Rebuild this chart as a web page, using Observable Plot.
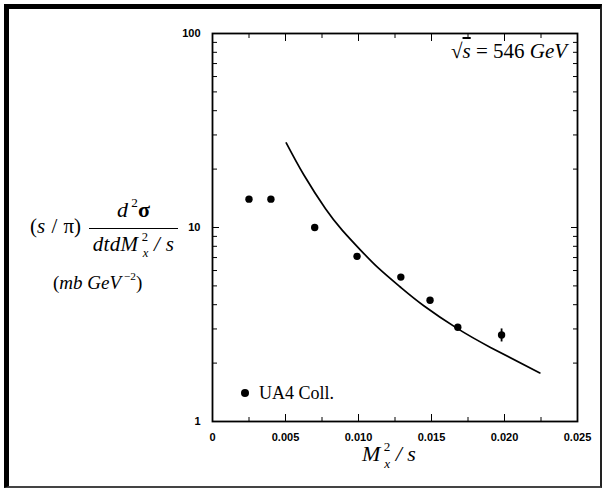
<!DOCTYPE html>
<html><head><meta charset="utf-8">
<script src="https://cdn.jsdelivr.net/npm/d3@7"></script>
<script src="https://cdn.jsdelivr.net/npm/@observablehq/plot@0.6"></script>
<style>
body{margin:0;background:#fff}
#wrap{position:relative;width:603px;height:488px;overflow:hidden;font-family:"Liberation Serif","Times New Roman",serif;color:#000}
#wrap svg{position:absolute;left:0;top:0}
.abs{position:absolute;white-space:nowrap;line-height:1}
.it{font-style:italic}
.sup{position:relative;top:-0.78em;font-size:60%}
.sub{position:relative;top:0.5em;font-size:60%}
#border{position:absolute;left:4px;top:4px;width:591px;height:477px;border-left:5px solid #000;border-top:5px solid #000;border-right:2px solid #222;border-bottom:2px solid #444}
</style></head><body>
<div id="wrap"><div id="border"></div></div>
<script>
// UA4 data points (M_x^2/s, cross section)
const dataX = [0.0025, 0.0040, 0.0070, 0.0099, 0.0129, 0.0149, 0.0168, 0.0198];
const dataY = [14.0, 14.0, 10.0, 7.1, 5.55, 4.22, 3.06, 2.79];
// error bar (only visible on the last point)
const errX = [0.0198];
const errLo = [2.57];
const errHi = [3.0];
// theory curve
const curveX = [0.00505, 0.00625, 0.00774, 0.00888, 0.01014, 0.01139, 0.01288, 0.01447, 0.01676, 0.01904, 0.02242];
const curveY = [27.3, 18.7, 12.5, 9.7, 7.65, 6.15, 4.92, 3.95, 3.02, 2.41, 1.78];
// ticks
const xTickValues = [0, 0.005, 0.010, 0.015, 0.020, 0.025];
const xTickLabels = ["0", "0.005", "0.010", "0.015", "0.020", "0.025"];
const xMinorTicks = [0.0025, 0.0075, 0.0125, 0.0175, 0.0225];
const yTickValues = [1, 10, 100];
const yTickLabels = ["1", "10", "100"];
const yMinorTicks = [2,3,4,5,6,7,8,9,20,30,40,50,60,70,80,90];

const pts = dataX.map((x, i) => ({x, y: dataY[i]}));
const crv = curveX.map((x, i) => ({x, y: curveY[i]}));
const err = errX.map((x, i) => ({x, y1: errLo[i], y2: errHi[i]}));
const xLab = new Map(xTickValues.map((v, i) => [v, xTickLabels[i]]));
const yLab = new Map(yTickValues.map((v, i) => [v, yTickLabels[i]]));
const font = {fontFamily: "Liberation Sans, Arial, sans-serif", fontWeight: "bold", fontSize: 11};

const chart = Plot.plot({
  width: 603, height: 488,
  marginLeft: 212, marginRight: 26, marginTop: 33, marginBottom: 67,
  style: {background: "transparent", color: "black", overflow: "visible"},
  x: {domain: [0, 0.025], label: null},
  y: {type: "log", domain: [1, 100], label: null},
  marks: [
    Plot.axisX({anchor: "bottom", ticks: xTickValues, tickSize: -7, fill: "none", label: null}),
    Plot.axisX({anchor: "bottom", ticks: xMinorTicks, tickSize: -4, fill: "none", label: null}),
    Plot.axisX({anchor: "top", ticks: xTickValues, tickSize: -7, fill: "none", label: null}),
    Plot.axisX({anchor: "top", ticks: xMinorTicks, tickSize: -4, fill: "none", label: null}),
    Plot.axisX({anchor: "bottom", ticks: xTickValues, tickSize: 0, tickPadding: 12, tickFormat: d => xLab.get(d), label: null, ...font}),
    Plot.axisY({anchor: "left", ticks: yTickValues, tickSize: -7, fill: "none", label: null}),
    Plot.axisY({anchor: "left", ticks: yMinorTicks, tickSize: -5, fill: "none", label: null}),
    Plot.axisY({anchor: "right", ticks: yTickValues, tickSize: -7, fill: "none", label: null}),
    Plot.axisY({anchor: "right", ticks: yMinorTicks, tickSize: -5, fill: "none", label: null}),
    Plot.axisY({anchor: "left", ticks: yTickValues, tickSize: 0, tickPadding: 12, tickFormat: d => yLab.get(d), label: null, ...font}),
    Plot.frame({stroke: "black", strokeWidth: 1.8}),
    Plot.line(crv, {x: "x", y: "y", curve: "natural", stroke: "black", strokeWidth: 1.7}),
    Plot.ruleX(err, {x: "x", y1: "y1", y2: "y2", stroke: "black", strokeWidth: 1.8}),
    Plot.dot(pts, {x: "x", y: "y", r: 3.7, fill: "black", stroke: "none"})
  ]
});
const wrap = document.getElementById("wrap");
wrap.appendChild(chart);

function addText(html, left, top, size, extra) {
  const d = document.createElement("div");
  d.className = "abs";
  d.style.left = left + "px";
  d.style.top = top + "px";
  d.style.fontSize = size + "px";
  if (extra) Object.assign(d.style, extra);
  d.innerHTML = html;
  wrap.appendChild(d);
  return d;
}
// y-axis label
addText('(<span class="it">s</span> / π)', 30, 216, 21, {wordSpacing: "1px"});
addText('<span class="it">d</span><span class="sup"> 2</span><b>σ</b>', 89, 199, 22, {width: "89px", textAlign: "center"});
const line = document.createElement("div");
Object.assign(line.style, {position: "absolute", left: "89px", top: "228px", width: "89px", height: "0", borderTop: "1px solid #000"});
wrap.appendChild(line);
addText('<span class="it">dtdM</span><span class="sup"> 2</span><span class="sub it" style="margin-left:-0.45em">x</span>&nbsp;<span class="it">/ s</span>', 89, 234, 21, {width: "89px", textAlign: "center", letterSpacing: "0.3px"});
addText('(<span class="it">mb GeV</span><span class="sup"> −2</span>)', 53, 273, 19);
// x-axis label
addText('<span class="it">M</span><span class="sup"> 2</span><span class="sub it" style="margin-left:-0.45em">x</span>&nbsp;<span class="it">/ s</span>', 362, 443, 22);
// annotation
addText('√<span class="it" style="text-decoration:overline">s</span> = 546 <span class="it">GeV</span>', 451, 41, 21);
// legend
const ld = document.createElement("div");
Object.assign(ld.style, {position: "absolute", left: "241px", top: "389px", width: "8px", height: "8px", borderRadius: "50%", background: "#000"});
wrap.appendChild(ld);
addText('UA4 Coll.', 259, 384, 18);
</script>
</body></html>
